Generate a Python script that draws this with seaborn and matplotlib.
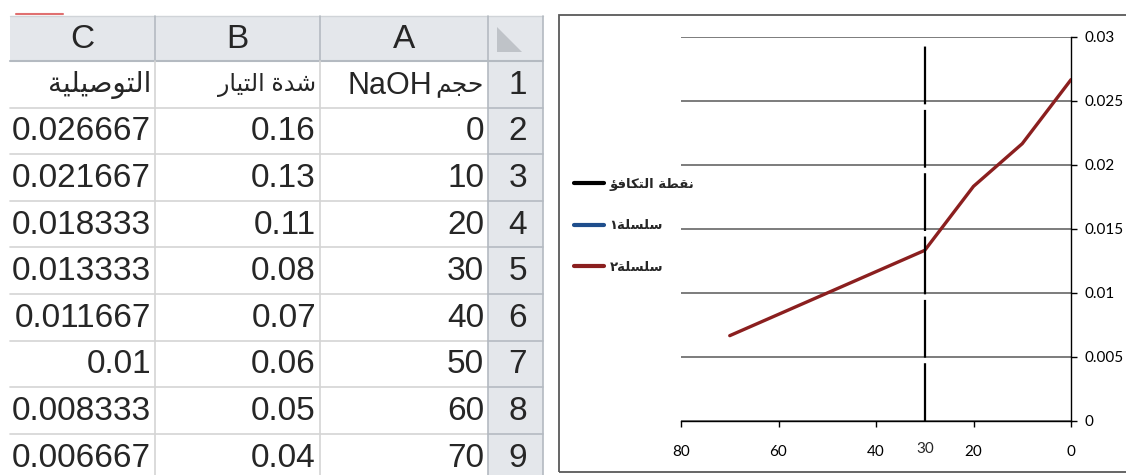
import matplotlib
matplotlib.use("Agg")
import matplotlib.pyplot as plt
import seaborn as sns
import pandas as pd
from matplotlib.patches import Rectangle, Polygon

# data (from the spreadsheet)
volume = [0, 10, 20, 30, 40, 50, 60, 70]
current = [0.16, 0.13, 0.11, 0.08, 0.07, 0.06, 0.05, 0.04]
conductivity = [0.026667, 0.021667, 0.018333, 0.013333, 0.011667, 0.01, 0.008333, 0.006667]
eq_volume = [30, 30]
eq_level = [0, 0.0297]

col_letters = ["C", "B", "A"]
# arabic headers, already shaped and in visual order
hdr_volume_ar = "\uFEE2\uFEA0\uFEA3"
hdr_volume_en = "NaOH"
hdr_current = "\uFEAD\uFE8E\uFEF4\uFE98\uFEDF\uFE8D \uFE93\uFEAA\uFEB7"
hdr_cond = "\uFE94\uFEF4\uFEE0\uFEF4\uFEBB\uFEEE\uFE98\uFEDF\uFE8D"
lbl_eq = "\uFE86\uFED3\uFE8E\uFEDC\uFE98\uFEDF\uFE8D \uFE94\uFEC4\uFED8\uFEE7"
lbl_s1 = "\u0661\uFE94\uFEE0\uFEB4\uFEE0\uFEB3"
lbl_s2 = "\u0662\uFE94\uFEE0\uFEB4\uFEE0\uFEB3"

x_ticks = [80, 60, 40, 20, 0]
y_ticks = [0, 0.005, 0.01, 0.015, 0.02, 0.025, 0.03]

sns.set_style("white")
plt.rcParams['font.family'] = ['Liberation Sans', 'DejaVu Sans']

W, H = 1126, 475
fig = plt.figure(figsize=(W / 100, H / 100), dpi=100)

# ---------------- spreadsheet part ----------------
tab = fig.add_axes([0, 0, 545 / W, 1])
tab.set_xlim(0, 545)
tab.set_ylim(H, 0)
tab.axis("off")

edges = [10, 155, 320, 488, 543]
top, hdr_bot, row_h = 16, 61, 46.6
n_rows = 9
grid_c = "#d4d4d4"
head_fill = "#e4e7eb"
head_line = "#b4bac1"

# header row and row-number column
tab.add_patch(Rectangle((edges[0], top), edges[-1] - edges[0], hdr_bot - top,
                        facecolor=head_fill, edgecolor="none"))
tab.add_patch(Rectangle((edges[3], top), edges[4] - edges[3], H - top,
                        facecolor=head_fill, edgecolor="none"))
tab.add_patch(Polygon([(497, 27), (497, 52), (522, 52)], closed=True,
                      facecolor="#bfc3c8", edgecolor="none"))

# grid
for i in range(1, n_rows + 1):
    y = hdr_bot + i * row_h
    tab.plot([edges[0], edges[3]], [y, y], color=grid_c, lw=1.2)
    tab.plot([edges[3], edges[4]], [y, y], color=head_line, lw=1.2)
tab.plot([edges[0], edges[4]], [hdr_bot, hdr_bot], color=head_line, lw=1.5)
tab.plot([edges[0], edges[4]], [top, top], color="#d0d4d8", lw=1)
for j, x in enumerate(edges[1:4]):
    tab.plot([x, x], [top, hdr_bot], color=head_line, lw=1.2)
    tab.plot([x, x], [hdr_bot, H], color=grid_c if j < 2 else head_line, lw=1.2)
tab.plot([edges[4], edges[4]], [top, H], color=head_line, lw=1.2)

# little mark above the sheet
tab.plot([16, 63], [14, 14], color="#e07070", lw=1.5)

fs = 24
cx = [(edges[k] + edges[k + 1]) / 2 for k in range(4)]
for k, letter in enumerate(col_letters):
    tab.text(cx[k], (top + hdr_bot) / 2 + 1, letter, ha="center", va="center", fontsize=fs)

def row_y(i):
    return hdr_bot + (i - 0.5) * row_h + 1

for i in range(1, n_rows + 1):
    tab.text(cx[3] + 2, row_y(i), str(i), ha="center", va="center", fontsize=fs)

tab.text(edges[3] - 4, row_y(1), hdr_volume_ar, ha="right", va="center", fontsize=18)
tab.text(edges[3] - 56, row_y(1) + 1, hdr_volume_en, ha="right", va="center", fontsize=22)
tab.text(edges[2] - 4, row_y(1), hdr_current, ha="right", va="center", fontsize=17)
tab.text(edges[1] - 4, row_y(1), hdr_cond, ha="right", va="center", fontsize=20)

for r, (v, c, g) in enumerate(zip(volume, current, conductivity)):
    y = row_y(r + 2)
    tab.text(edges[3] - 4, y, f"{v}", ha="right", va="center", fontsize=fs)
    tab.text(edges[2] - 4, y, f"{c:g}", ha="right", va="center", fontsize=fs)
    tab.text(edges[1] - 4, y, f"{g:g}", ha="right", va="center", fontsize=fs)

# ---------------- chart part ----------------
fig.add_artist(Rectangle((559 / W, 1 - 472 / H), 1, (472 - 15) / H,
                         transform=fig.transFigure, facecolor="none",
                         edgecolor="#595959", lw=1.3))

ax = fig.add_axes([681 / W, 1 - 421 / H, (1071 - 681) / W, (421 - 37) / H])
ax.set_facecolor("none")

ax.plot(eq_volume, eq_level, color="black", lw=1.6, dashes=(26, 2.5),
        label=lbl_eq, zorder=4)
df = pd.DataFrame({"volume": volume, "current": current, "conductivity": conductivity})
sns.lineplot(data=df, x="volume", y="current", ax=ax, color="#1f4e8c", lw=2.2,
             label=lbl_s1)
sns.lineplot(data=df, x="volume", y="conductivity", ax=ax, color="#8b1f1f", lw=2.4,
             label=lbl_s2, zorder=3)

ax.set_xlim(80, 0)
ax.set_ylim(0, 0.03)
ax.set_xticks(x_ticks)
ax.set_xticklabels([str(t) for t in x_ticks])
ax.set_yticks(y_ticks)
ax.set_yticklabels([f"{t:g}" for t in y_ticks])
ax.yaxis.tick_right()
ax.set_xlabel("")
ax.set_ylabel("")
ax.grid(axis="y", color="#595959", lw=1.1)
ax.grid(axis="x", visible=False)
for s in ["left", "top"]:
    ax.spines[s].set_visible(False)
for s in ["right", "bottom"]:
    ax.spines[s].set_color("black")
    ax.spines[s].set_linewidth(1)
ax.tick_params(axis="x", direction="out", length=4.5, width=1, pad=13,
               labelsize=11, bottom=True, colors="black")
ax.tick_params(axis="y", direction="out", length=4.5, width=1, pad=5,
               labelsize=11, right=True, left=False, colors="black")
for t in ax.get_xticklabels() + ax.get_yticklabels():
    t.set_family(["Lato", "DejaVu Sans"])

ax.annotate("30", xy=(eq_volume[0], 0), xycoords=ax.get_xaxis_transform(),
            xytext=(0, -20), textcoords="offset points", ha="center", va="center",
            fontsize=11, family=["Lato", "DejaVu Sans"])

leg = ax.legend(loc="upper left", bbox_to_anchor=(574 / W, 1 - 178 / H),
                bbox_transform=fig.transFigure, frameon=False,
                prop={"size": 9.5, "weight": "bold", "family": ["DejaVu Sans"]},
                handlelength=2.3, handletextpad=0.4, labelspacing=2.15,
                borderpad=0, borderaxespad=0)
for line in leg.get_lines():
    line.set_linestyle("-")
    line.set_linewidth(3)

fig.savefig("out.png", dpi=100)
